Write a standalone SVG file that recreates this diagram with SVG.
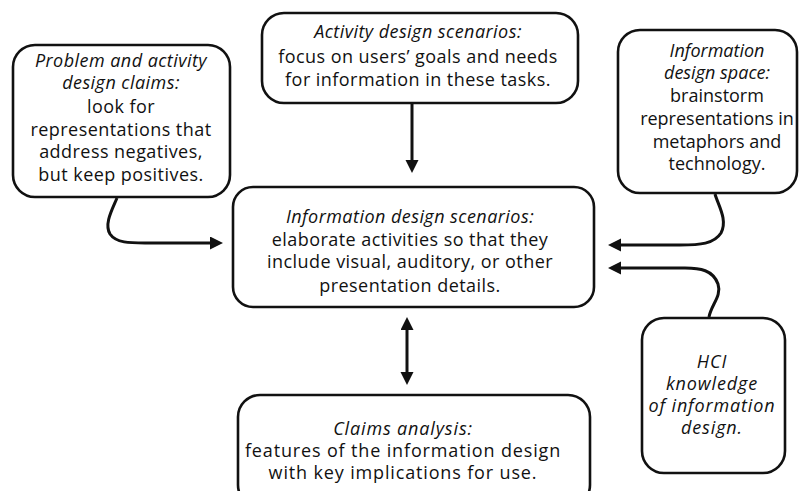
<svg xmlns="http://www.w3.org/2000/svg" width="800" height="491" viewBox="0 0 800 491">
<defs>
<style>
.box{fill:#fff;stroke:#111;stroke-width:2.6}
.t{font-family:"Open Sans","Liberation Sans",sans-serif;font-size:18px;fill:#111;text-anchor:middle;letter-spacing:0.45px}
.n{letter-spacing:0}
.w{letter-spacing:0.85px}
.i{font-style:italic}
.c{fill:none;stroke:#111;stroke-width:3}
</style>
<marker id="ah" markerUnits="userSpaceOnUse" markerWidth="14" markerHeight="14" refX="1" refY="6.5" orient="auto-start-reverse">
<path d="M0,0 L13,6.5 L0,13 z" fill="#111"/>
</marker>
</defs>
<rect width="800" height="491" fill="#fff"/>
<g id="connectors">
<path class="c" d="M117,198 C112,210 104,224 110,234 C116,243 130,243 145,243 L211,243" marker-end="url(#ah)"/>
<path class="c" d="M412,104 L412,161" marker-end="url(#ah)"/>
<path class="c" d="M715,194 C718,205 728,220 721,233 C714,244 700,245 680,245 L620,245" marker-end="url(#ah)"/>
<path class="c" d="M709,317 C711,305 722,296 718,284 C713,270 700,268 685,268 L620,268" marker-end="url(#ah)"/>
<path class="c" d="M407,329 L407,373" marker-start="url(#ah)" marker-end="url(#ah)"/>
</g>
<g id="n-problem-claims">
<rect class="box" x="13" y="45" width="217" height="152" rx="22"/>
<text class="t i" x="121" y="67">Problem and activity</text>
<text class="t i" x="121" y="89">design claims:</text>
<text class="t" x="121" y="113">look for</text>
<text class="t" x="121" y="136">representations that</text>
<text class="t" x="121" y="158">address negatives,</text>
<text class="t" x="121" y="181">but keep positives.</text>
</g>
<g id="n-activity-scenarios">
<rect class="box" x="262" y="13" width="316" height="90" rx="22"/>
<text class="t i" x="418" y="38">Activity design scenarios:</text>
<text class="t" x="418" y="63">focus on users’ goals and needs</text>
<text class="t" x="418" y="86">for information in these tasks.</text>
</g>
<g id="n-design-space">
<rect class="box" x="618" y="30" width="179" height="163" rx="22"/>
<text class="t n i" x="717" y="57">Information</text>
<text class="t n i" x="717" y="79">design space:</text>
<text class="t n" x="717" y="102">brainstorm</text>
<text class="t n" x="717" y="125">representations in</text>
<text class="t n" x="717" y="148">metaphors and</text>
<text class="t n" x="717" y="170">technology.</text>
</g>
<g id="n-info-scenarios">
<rect class="box" x="233" y="187" width="361" height="120" rx="20"/>
<text class="t i" x="410" y="223">Information design scenarios:</text>
<text class="t" x="410" y="246">elaborate activities so that they</text>
<text class="t" x="410" y="268">include visual, auditory, or other</text>
<text class="t" x="410" y="292">presentation details.</text>
</g>
<g id="n-claims-analysis">
<rect class="box" x="238" y="395" width="352" height="112" rx="22"/>
<text class="t w i" x="403" y="435">Claims analysis:</text>
<text class="t w" x="403" y="457">features of the information design</text>
<text class="t w" x="403" y="479">with key implications for use.</text>
</g>
<g id="n-hci">
<rect class="box" x="642" y="318" width="143" height="155" rx="22"/>
<text class="t w i" x="712" y="368">HCI</text>
<text class="t w i" x="712" y="390">knowledge</text>
<text class="t w i" x="712" y="412">of information</text>
<text class="t w i" x="712" y="434">design.</text>
</g>
</svg>
